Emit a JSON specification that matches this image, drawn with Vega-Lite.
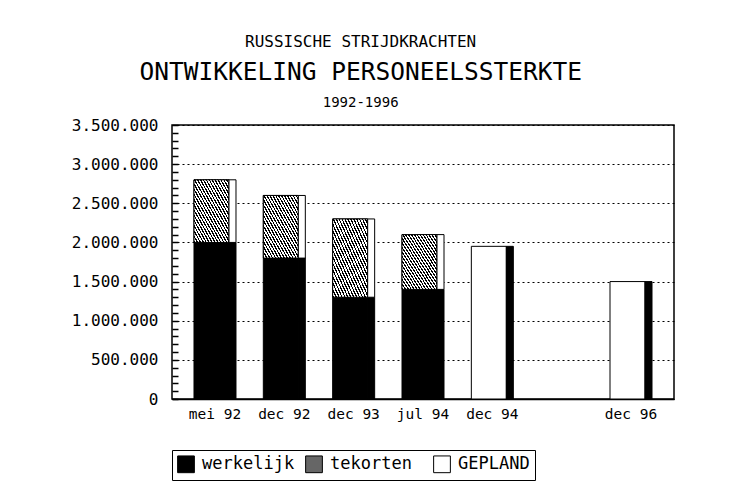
{
  "$schema": "https://vega.github.io/schema/vega-lite/v6.json",
  "background": "white",
  "padding": {"left": 70, "top": 33, "right": 10, "bottom": 5},
  "title": {"text": "RUSSISCHE STRIJDKRACHTEN", "fontSize": 16, "font": "DejaVu Sans Mono", "fontWeight": "normal", "anchor": "middle", "frame": "bounds", "color": "black", "offset": 9, "dx": -12},
  "config": {
    "locale": {"number": {"decimal": ",", "thousands": ".", "grouping": [3], "currency": ["", " €"]}},
    "font": "DejaVu Sans Mono",
    "view": {"stroke": "black", "strokeWidth": 1.5},
    "axis": {"labelFont": "DejaVu Sans Mono", "labelColor": "black", "domainColor": "black", "tickColor": "black", "title": null}
  },
  "vconcat": [
    {
      "title": {"text": "ONTWIKKELING PERSONEELSSTERKTE", "subtitle": "1992-1996", "fontSize": 24.5, "subtitleFontSize": 14, "font": "DejaVu Sans Mono", "subtitleFont": "DejaVu Sans Mono", "fontWeight": "normal", "color": "black", "subtitleColor": "black", "anchor": "middle", "frame": "bounds", "subtitlePadding": 11, "offset": 6, "dx": -12},
      "width": 502,
      "height": 274,
      "data": {"values": [
        {"cat": "mei 92", "serie": "werkelijk", "start": 0, "end": 2000000},
        {"cat": "mei 92", "serie": "tekorten", "start": 2000000, "end": 2800000},
        {"cat": "dec 92", "serie": "werkelijk", "start": 0, "end": 1800000},
        {"cat": "dec 92", "serie": "tekorten", "start": 1800000, "end": 2600000},
        {"cat": "dec 93", "serie": "werkelijk", "start": 0, "end": 1300000},
        {"cat": "dec 93", "serie": "tekorten", "start": 1300000, "end": 2300000},
        {"cat": "jul 94", "serie": "werkelijk", "start": 0, "end": 1400000},
        {"cat": "jul 94", "serie": "tekorten", "start": 1400000, "end": 2100000},
        {"cat": "dec 94", "serie": "GEPLAND", "start": 0, "end": 1950000},
        {"cat": "dec 96", "serie": "GEPLAND", "start": 0, "end": 1500000}
      ]},
      "encoding": {
        "x": {"field": "cat", "type": "nominal", "scale": {"domain": ["mei 92", "dec 92", "dec 93", "jul 94", "dec 94", " ", "dec 96"], "paddingInner": 0.4, "paddingOuter": 0.32}, "axis": {"labelAngle": 0, "ticks": false, "labelFontSize": 14.5, "labelPadding": 8, "domainWidth": 1.5}},
        "y": {"field": "start", "type": "quantitative", "scale": {"domain": [0, 3500000], "nice": false}, "axis": {"tickCount": 35, "labelOverlap": false, "labelFontSize": 16, "labelPadding": 14, "labelExpr": "datum.value % 500000 === 0 ? datum.label : ''", "grid": true, "gridColor": "black", "gridDash": [2, 3], "gridOpacity": {"condition": {"test": "datum.value % 500000 === 0", "value": 1}, "value": 0}, "tickSize": 6, "tickWidth": 1.5, "domain": false, "offset": -6}},
        "y2": {"field": "end"}
      },
      "layer": [
        {
          "mark": {"type": "bar", "width": 35, "xOffset": -3.5, "stroke": "black", "strokeWidth": 1},
          "encoding": {
            "color": {"field": "serie", "type": "nominal", "scale": {"domain": ["werkelijk", "tekorten", "GEPLAND"], "range": ["black", "#666666", "white"]},
              "legend": {"orient": "bottom", "direction": "horizontal", "title": null, "symbolType": "square", "symbolSize": 280, "symbolStrokeColor": "black", "symbolStrokeWidth": 1, "labelFontSize": 17, "labelColor": "black", "labelFont": "DejaVu Sans Mono", "strokeColor": "black", "padding": 5, "offset": 28, "columnPadding": 8, "labelOffset": 7, "symbolOpacity": 1, "gridAlign": "all"}}
          }
        },
        {
          "transform": [{"filter": "datum.serie === 'tekorten'"}],
          "mark": {"type": "bar", "width": 35, "xOffset": -3.5, "stroke": "black", "strokeWidth": 1,
            "fill": {"gradient": "linear", "x1": 0, "y1": 1, "x2": 1, "y2": 0, "stops": [
              {"offset": 0, "color": "black"}, {"offset": 0.0185, "color": "black"}, {"offset": 0.0185, "color": "white"}, {"offset": 0.04167, "color": "white"},
              {"offset": 0.04167, "color": "black"}, {"offset": 0.06017, "color": "black"}, {"offset": 0.06017, "color": "white"}, {"offset": 0.08333, "color": "white"},
              {"offset": 0.08333, "color": "black"}, {"offset": 0.10183, "color": "black"}, {"offset": 0.10183, "color": "white"}, {"offset": 0.125, "color": "white"},
              {"offset": 0.125, "color": "black"}, {"offset": 0.1435, "color": "black"}, {"offset": 0.1435, "color": "white"}, {"offset": 0.16667, "color": "white"},
              {"offset": 0.16667, "color": "black"}, {"offset": 0.18517, "color": "black"}, {"offset": 0.18517, "color": "white"}, {"offset": 0.20833, "color": "white"},
              {"offset": 0.20833, "color": "black"}, {"offset": 0.22683, "color": "black"}, {"offset": 0.22683, "color": "white"}, {"offset": 0.25, "color": "white"},
              {"offset": 0.25, "color": "black"}, {"offset": 0.2685, "color": "black"}, {"offset": 0.2685, "color": "white"}, {"offset": 0.29167, "color": "white"},
              {"offset": 0.29167, "color": "black"}, {"offset": 0.31017, "color": "black"}, {"offset": 0.31017, "color": "white"}, {"offset": 0.33333, "color": "white"},
              {"offset": 0.33333, "color": "black"}, {"offset": 0.35183, "color": "black"}, {"offset": 0.35183, "color": "white"}, {"offset": 0.375, "color": "white"},
              {"offset": 0.375, "color": "black"}, {"offset": 0.3935, "color": "black"}, {"offset": 0.3935, "color": "white"}, {"offset": 0.41667, "color": "white"},
              {"offset": 0.41667, "color": "black"}, {"offset": 0.43517, "color": "black"}, {"offset": 0.43517, "color": "white"}, {"offset": 0.45833, "color": "white"},
              {"offset": 0.45833, "color": "black"}, {"offset": 0.47683, "color": "black"}, {"offset": 0.47683, "color": "white"}, {"offset": 0.5, "color": "white"},
              {"offset": 0.5, "color": "black"}, {"offset": 0.5185, "color": "black"}, {"offset": 0.5185, "color": "white"}, {"offset": 0.54167, "color": "white"},
              {"offset": 0.54167, "color": "black"}, {"offset": 0.56017, "color": "black"}, {"offset": 0.56017, "color": "white"}, {"offset": 0.58333, "color": "white"},
              {"offset": 0.58333, "color": "black"}, {"offset": 0.60183, "color": "black"}, {"offset": 0.60183, "color": "white"}, {"offset": 0.625, "color": "white"},
              {"offset": 0.625, "color": "black"}, {"offset": 0.6435, "color": "black"}, {"offset": 0.6435, "color": "white"}, {"offset": 0.66667, "color": "white"},
              {"offset": 0.66667, "color": "black"}, {"offset": 0.68517, "color": "black"}, {"offset": 0.68517, "color": "white"}, {"offset": 0.70833, "color": "white"},
              {"offset": 0.70833, "color": "black"}, {"offset": 0.72683, "color": "black"}, {"offset": 0.72683, "color": "white"}, {"offset": 0.75, "color": "white"},
              {"offset": 0.75, "color": "black"}, {"offset": 0.7685, "color": "black"}, {"offset": 0.7685, "color": "white"}, {"offset": 0.79167, "color": "white"},
              {"offset": 0.79167, "color": "black"}, {"offset": 0.81017, "color": "black"}, {"offset": 0.81017, "color": "white"}, {"offset": 0.83333, "color": "white"},
              {"offset": 0.83333, "color": "black"}, {"offset": 0.85183, "color": "black"}, {"offset": 0.85183, "color": "white"}, {"offset": 0.875, "color": "white"},
              {"offset": 0.875, "color": "black"}, {"offset": 0.8935, "color": "black"}, {"offset": 0.8935, "color": "white"}, {"offset": 0.91667, "color": "white"},
              {"offset": 0.91667, "color": "black"}, {"offset": 0.93517, "color": "black"}, {"offset": 0.93517, "color": "white"}, {"offset": 0.95833, "color": "white"},
              {"offset": 0.95833, "color": "black"}, {"offset": 0.97683, "color": "black"}, {"offset": 0.97683, "color": "white"}, {"offset": 1, "color": "white"}
            ]}}
        },
        {
          "mark": {"type": "bar", "width": 7, "xOffset": 17.5, "stroke": "black", "strokeWidth": 1},
          "encoding": {
            "color": {"condition": {"test": "datum.serie === 'tekorten'", "value": "white"}, "value": "black"}
          }
        }
      ]
    }
  ]
}
